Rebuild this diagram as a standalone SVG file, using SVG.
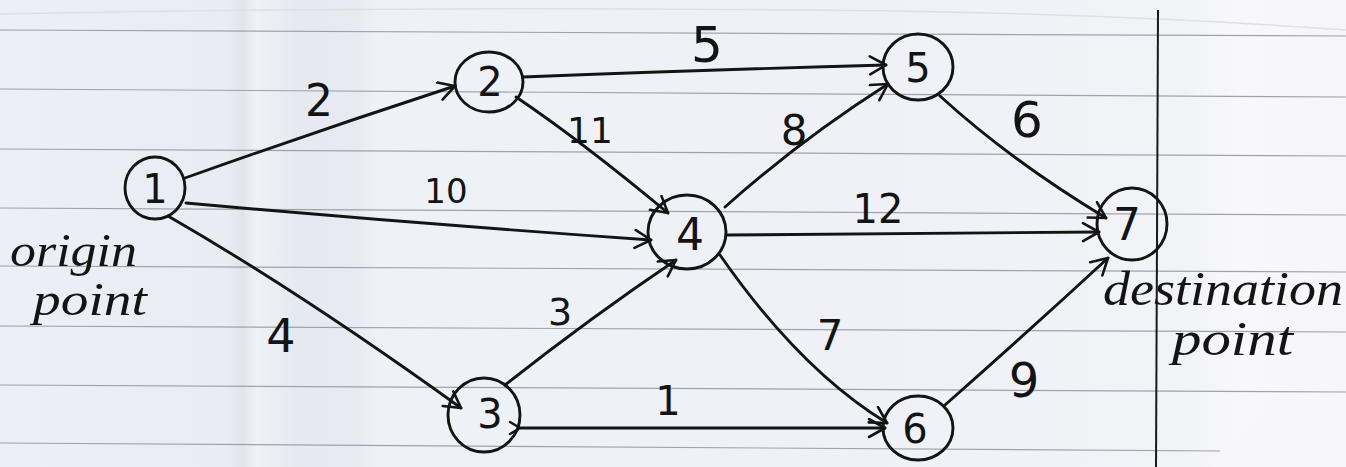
<svg xmlns="http://www.w3.org/2000/svg" width="1346" height="467" viewBox="0 0 1346 467">
<defs>
<linearGradient id="paper" x1="0" y1="0" x2="1" y2="0">
<stop offset="0" stop-color="#eceff5"/>
<stop offset="0.17" stop-color="#e9ecf2"/>
<stop offset="0.18" stop-color="#e1e4ea"/>
<stop offset="0.19" stop-color="#eef1f6"/>
<stop offset="0.22" stop-color="#e6e9ef"/>
<stop offset="0.265" stop-color="#e7eaf0"/>
<stop offset="0.28" stop-color="#eef1f6"/>
<stop offset="0.6" stop-color="#eff1f7"/>
<stop offset="0.88" stop-color="#f2f3f7"/>
<stop offset="0.92" stop-color="#f8f8fa"/>
<stop offset="1" stop-color="#f6f6f8"/>
</linearGradient>
<marker id="arr" markerWidth="24" markerHeight="24" refX="20" refY="10" orient="auto" markerUnits="userSpaceOnUse">
<path d="M4,1 L20,10 L4,19" fill="none" stroke="#141414" stroke-width="2.6" stroke-linecap="round" stroke-linejoin="round"/>
</marker>
<marker id="arrs" markerWidth="24" markerHeight="24" refX="4" refY="10" orient="auto-start-reverse" markerUnits="userSpaceOnUse">
<path d="M14,4 L4,10 L14,16" fill="none" stroke="#141414" stroke-width="2.4" stroke-linecap="round" stroke-linejoin="round"/>
</marker>
</defs>
<style>
.rule{stroke:#9ea3ab;stroke-width:1.2}
.edge{fill:none;stroke:#141414;stroke-width:2.9;stroke-linecap:round}
.node circle,.node ellipse{fill:none;stroke:#141414;stroke-width:2.9}
.num{font-family:"DejaVu Sans","Liberation Sans",sans-serif;fill:#141414;text-anchor:middle}
.hand{font-family:"Liberation Serif",serif;font-style:italic;fill:#141414}
</style>
<rect width="1346" height="467" fill="url(#paper)"/>
<path d="M0,14 Q400,6 800,10 Q1100,12 1346,30" fill="none" stroke="#dde0e6" stroke-width="1.5"/>
<path d="M1210,467 L1346,330 L1346,467 Z" fill="#f7f7f9"/>
<g id="rules">
<line class="rule" x1="0" y1="30" x2="1346" y2="36"/>
<line class="rule" x1="0" y1="89" x2="1346" y2="97"/>
<line class="rule" x1="0" y1="149" x2="1346" y2="156"/>
<line class="rule" x1="0" y1="208" x2="1346" y2="215"/>
<line class="rule" x1="0" y1="266" x2="1346" y2="272"/>
<line class="rule" x1="0" y1="326" x2="1346" y2="332"/>
<line class="rule" x1="0" y1="385" x2="1346" y2="392"/>
<line class="rule" x1="0" y1="443" x2="1220" y2="451"/>
<line x1="1158" y1="10" x2="1156" y2="467" stroke="#1a1a1a" stroke-width="2"/>
</g>
<g id="connectors">
<path class="edge" d="M185,178 Q320,130 455,86" marker-end="url(#arr)"/>
<path class="edge" d="M186,203 Q420,224 651,240" marker-end="url(#arr)"/>
<path class="edge" d="M168,216 Q300,292 461,408" marker-end="url(#arr)"/>
<path class="edge" d="M523,77 Q700,70 886,65" marker-end="url(#arr)"/>
<path class="edge" d="M516,97 Q580,140 668,213" marker-end="url(#arr)"/>
<path class="edge" d="M725,207 Q800,140 888,84" marker-end="url(#arr)"/>
<path class="edge" d="M727,235 L1099,232" marker-end="url(#arr)"/>
<path class="edge" d="M505,385 Q590,318 676,260" marker-end="url(#arr)"/>
<path class="edge" d="M720,255 Q800,370 887,423" marker-end="url(#arr)"/>
<path class="edge" d="M520,428 L885,428" marker-start="url(#arrs)" marker-end="url(#arr)"/>
<path class="edge" d="M940,96 Q1010,160 1106,218" marker-end="url(#arr)"/>
<path class="edge" d="M945,405 Q1030,330 1108,258" marker-end="url(#arr)"/>
<text class="num" x="319" y="116" font-size="44">2</text>
<text class="num" x="446" y="203" font-size="34">10</text>
<text class="num" x="281" y="352" font-size="46">4</text>
<text class="num" x="707" y="62" font-size="50">5</text>
<text class="num" x="590" y="143" font-size="36">11</text>
<text class="num" x="794" y="145" font-size="42">8</text>
<text class="num" x="878" y="223" font-size="40">12</text>
<text class="num" x="560" y="325" font-size="38">3</text>
<text class="num" x="830" y="350" font-size="42">7</text>
<text class="num" x="668" y="415" font-size="40">1</text>
<text class="num" x="1027" y="137" font-size="50">6</text>
<text class="num" x="1024" y="397" font-size="48">9</text>
</g>
<g id="node1" class="node"><ellipse cx="155" cy="188" rx="30" ry="31"/><text class="num" x="155" y="203" font-size="40">1</text></g>
<g id="node2" class="node"><ellipse cx="489" cy="82" rx="34" ry="30"/><text class="num" x="490" y="96" font-size="40">2</text></g>
<g id="node3" class="node"><ellipse cx="484" cy="415" rx="36" ry="37"/><text class="num" x="490" y="428" font-size="40">3</text></g>
<g id="node4" class="node"><ellipse cx="687" cy="232" rx="39" ry="37"/><text class="num" x="690" y="250" font-size="44">4</text></g>
<g id="node5" class="node"><ellipse cx="918" cy="67" rx="35" ry="33"/><text class="num" x="918" y="82" font-size="40">5</text></g>
<g id="node6" class="node"><ellipse cx="918" cy="428" rx="35" ry="32"/><text class="num" x="915" y="443" font-size="40">6</text></g>
<g id="node7" class="node"><ellipse cx="1132" cy="224" rx="35" ry="36"/><text class="num" x="1127" y="240" font-size="44">7</text></g>
<g id="labels">
<text class="hand" x="10" y="266" font-size="46" textLength="127" lengthAdjust="spacingAndGlyphs">origin</text>
<text class="hand" x="33" y="315" font-size="46" textLength="114" lengthAdjust="spacingAndGlyphs">point</text>
<text class="hand" x="1103" y="305" font-size="48" textLength="240" lengthAdjust="spacingAndGlyphs">destination</text>
<text class="hand" x="1172" y="355" font-size="48" textLength="121" lengthAdjust="spacingAndGlyphs">point</text>
</g>
</svg>
